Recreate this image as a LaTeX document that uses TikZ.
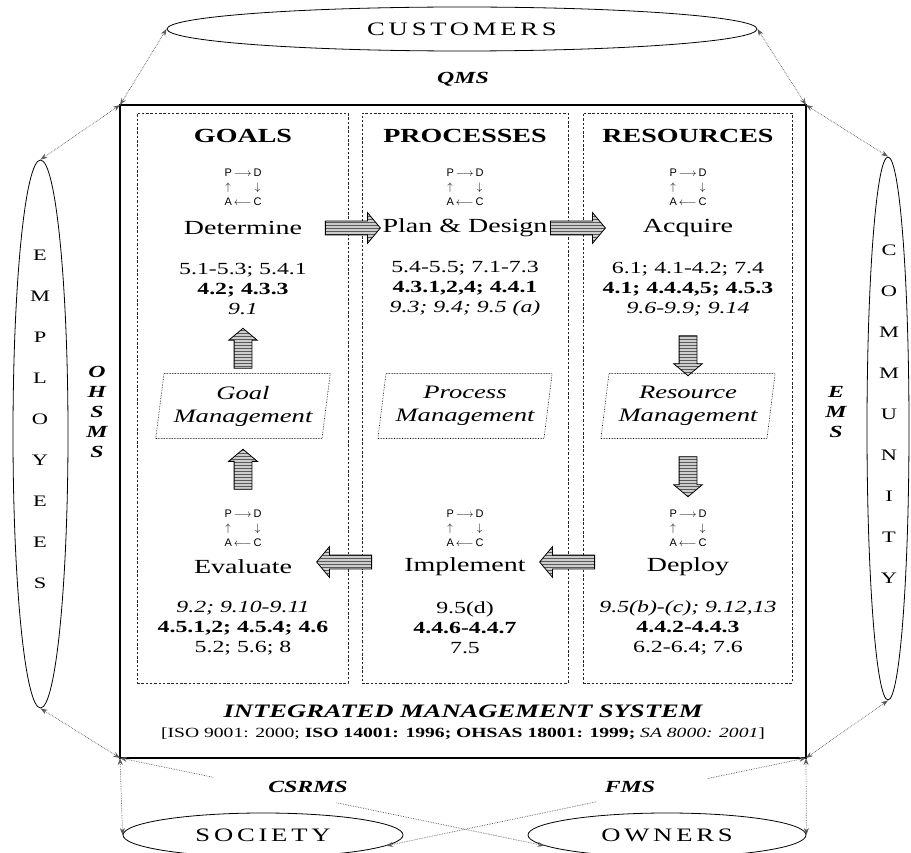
\documentclass[tikz,border=0pt]{standalone}
\usepackage{fontspec}
\setmainfont{Liberation Serif}[FakeStretch=1.4]
\newfontfamily\pdcafont{Liberation Sans}
\usepackage{tikz}
\usetikzlibrary{positioning,shapes.geometric,shapes.arrows,arrows.meta,patterns,calc}
\definecolor{linkgray}{RGB}{90,90,90}
\definecolor{arrowfill}{RGB}{205,205,205}

\newcommand{\fsz}[2]{\fontsize{#1}{#2}\selectfont}
\newcommand{\pdca}{\pdcafont\fsz{11}{14.5}%
  \begin{tabular}{@{}c@{\hspace{2pt}}c@{\hspace{2pt}}c@{}}
    P & $\longrightarrow$ & D\\
    $\uparrow$ & & $\downarrow$\\
    A & $\longleftarrow$ & C
  \end{tabular}}

\begin{document}
\begin{tikzpicture}[x=1pt,y=-1pt,>={Stealth[length=7pt,width=5pt]},
    imsbox/.style={draw,line width=2.2pt,minimum width=686pt,minimum height=653pt,inner sep=0pt,outer sep=0pt},
    colbox/.style={draw,black!85,line width=0.9pt,dash pattern=on 2.5pt off 1.8pt,minimum height=570pt,inner sep=0pt},
    hdr/.style={font=\bfseries\fsz{20}{24}},
    stage/.style={font=\fsz{20}{24}},
    refs/.style={align=center,font=\fsz{17}{20}},
    pdcabox/.style={inner sep=0pt},
    mgmt/.style={trapezium,trapezium left angle=80,trapezium right angle=100,trapezium stretches=true,
      draw,densely dotted,line width=0.6pt,minimum height=65pt,text width=158pt,inner xsep=0pt,
      align=center,font=\itshape\fsz{19}{23}},
    blockarr/.style={single arrow,draw,line width=0.8pt,minimum height=55pt,inner xsep=0pt,inner ysep=6.5pt,
      single arrow head extend=8.5pt,single arrow tip angle=100,
      preaction={fill=arrowfill},pattern=horizontal lines,pattern color=black!65},
    vblockarr/.style={blockarr,minimum height=40pt,inner ysep=8.5pt,single arrow head extend=5.5pt},
    ring/.style={ellipse,draw,line width=0.8pt,inner sep=0pt,font=\fsz{19}{23}\addfontfeature{LetterSpace=20}},
    sidelbl/.style={align=center,font=\fsz{16}{41}},
    msys/.style={align=center,font=\bfseries\itshape\fsz{17}{20}},
    link/.style={densely dotted,linkgray,line width=0.7pt}]
  \useasboundingbox (0,0) rectangle (911,853);

  % stakeholders and the outer frame
  \node[ring,minimum width=590pt,minimum height=44pt] (cust) at (462,29) {CUSTOMERS};
  \node[msys] (qms) at (463,79) {QMS};
  \node[imsbox] (ims) at (463,431.5) {};
  \node[ring,minimum width=55pt,minimum height=548pt] (empl) at (40.5,434) {};
  \node[sidelbl] (empltxt) at (40,419) {E\\M\\P\\L\\O\\Y\\E\\E\\S};
  \node[ring,minimum width=42pt,minimum height=543pt] (comm) at (888,428.5) {};
  \node[sidelbl] (commtxt) at (889,414) {C\\O\\M\\M\\U\\N\\I\\T\\Y};
  \node[msys] (ohsms) at (97,412) {O\\H\\S\\M\\S};
  \node[msys] (ems) at (836,412) {E\\M\\S};

  % the three columns
  \node[colbox,minimum width=211pt] (gcol) at (242.5,398) {};
  \node[colbox,minimum width=206pt] (pcol) at (465,398) {};
  \node[colbox,minimum width=209pt] (rcol) at (687.5,398) {};

  \node[hdr] (goals) at (243,136) {GOALS};
  \node[hdr] (procs) at (465,136) {PROCESSES};
  \node[hdr] (resrc) at (688,136) {RESOURCES};

  \node[pdcabox] (pdca1) at (243,188) {\pdca};
  \node[pdcabox] (pdca2) at (465,188) {\pdca};
  \node[pdcabox] (pdca3) at (688,188) {\pdca};
  \node[stage] (determine) at (243,228) {Determine};
  \node[stage] (plan) at (465,228) {Plan \& Design};
  \node[stage] (acquire) at (688,228) {Acquire};
  \node[refs] (gref1) at (243,289) {5.1-5.3; 5.4.1\\\textbf{4.2; 4.3.3}\\\textit{9.1}};
  \node[refs] (pref1) at (465,289) {5.4-5.5; 7.1-7.3\\\textbf{4.3.1,2,4; 4.4.1}\\\textit{9.3; 9.4; 9.5 (a)}};
  \node[refs] (rref1) at (688,289) {6.1; 4.1-4.2; 7.4\\\textbf{4.1; 4.4.4,5; 4.5.3}\\\textit{9.6-9.9; 9.14}};

  \node[mgmt] (gmgmt) at (243,406) {Goal\\Management};
  \node[mgmt] (pmgmt) at (465,406) {Process\\Management};
  \node[mgmt] (rmgmt) at (688,406) {Resource\\Management};

  \node[pdcabox] (pdca4) at (243,529) {\pdca};
  \node[pdcabox] (pdca5) at (465,529) {\pdca};
  \node[pdcabox] (pdca6) at (688,529) {\pdca};
  \node[stage] (evaluate) at (243,567) {Evaluate};
  \node[stage] (implement) at (465,567) {Implement};
  \node[stage] (deploy) at (688,567) {Deploy};
  \node[refs] (gref2) at (243,628) {\textit{9.2; 9.10-9.11}\\\textbf{4.5.1,2; 4.5.4; 4.6}\\5.2; 5.6; 8};
  \node[refs] (pref2) at (465,628) {9.5(d)\\\textbf{4.4.6-4.4.7}\\7.5};
  \node[refs] (rref2) at (688,628) {\textit{9.5(b)-(c); 9.12,13}\\\textbf{4.4.2-4.4.3}\\6.2-6.4; 7.6};

  % block arrows of the cycle
  \node[blockarr] (arr1) at (350,228) {};
  \node[blockarr] (arr2) at (575,228) {};
  \node[vblockarr,rotate=-90] (arr3) at (688,352) {};
  \node[vblockarr,rotate=-90] (arr4) at (688,473) {};
  \node[blockarr,rotate=180] (arr5) at (570,562) {};
  \node[blockarr,rotate=180] (arr6) at (347,562) {};
  \node[vblockarr,rotate=90] (arr7) at (243,473) {};
  \node[vblockarr,rotate=90] (arr8) at (243,352) {};

  \node[font=\bfseries\itshape\fsz{19}{23}] (imstitle) at (463,711) {INTEGRATED MANAGEMENT SYSTEM};
  \node[font=\fsz{14}{17}] (isoline) at (463,734)
    {[ISO 9001: 2000; \textbf{ISO 14001: 1996; OHSAS 18001: 1999;} \textit{SA 8000: 2001}]};

  \node[msys] (csrms) at (308,787) {CSRMS};
  \node[msys] (fms) at (630,787) {FMS};
  \node[ring,minimum width=280pt,minimum height=44pt] (soc) at (263,835) {SOCIETY};
  \node[ring,minimum width=278pt,minimum height=44pt] (own) at (667,835) {OWNERS};

  % dotted links to the stakeholders
  \draw[link,<->] (ims.north west) -- (cust.west);
  \draw[link,<->] (ims.north east) -- (cust.east);
  \draw[link,<->] (ims.north west) -- (empl.north);
  \draw[link,<->] (ims.north east) -- (comm.north);
  \draw[link,<->] (ims.south west) -- (empl.south);
  \draw[link,<->] (ims.south east) -- (comm.south);
  \draw[link,<->] (ims.south west) -- (soc.west);
  \draw[link,<->] (ims.south east) -- (own.east);
  \draw[link,<-] (ims.south west) -- ($(ims.south west)!0.22!(own.185)$);
  \draw[link,->] ($(ims.south west)!0.51!(own.185)$) -- (own.185);
  \draw[link,<-] (ims.south east) -- ($(ims.south east)!0.235!(soc.355)$);
  \draw[link,->] ($(ims.south east)!0.5!(soc.355)$) -- (soc.355);
\end{tikzpicture}
\end{document}
